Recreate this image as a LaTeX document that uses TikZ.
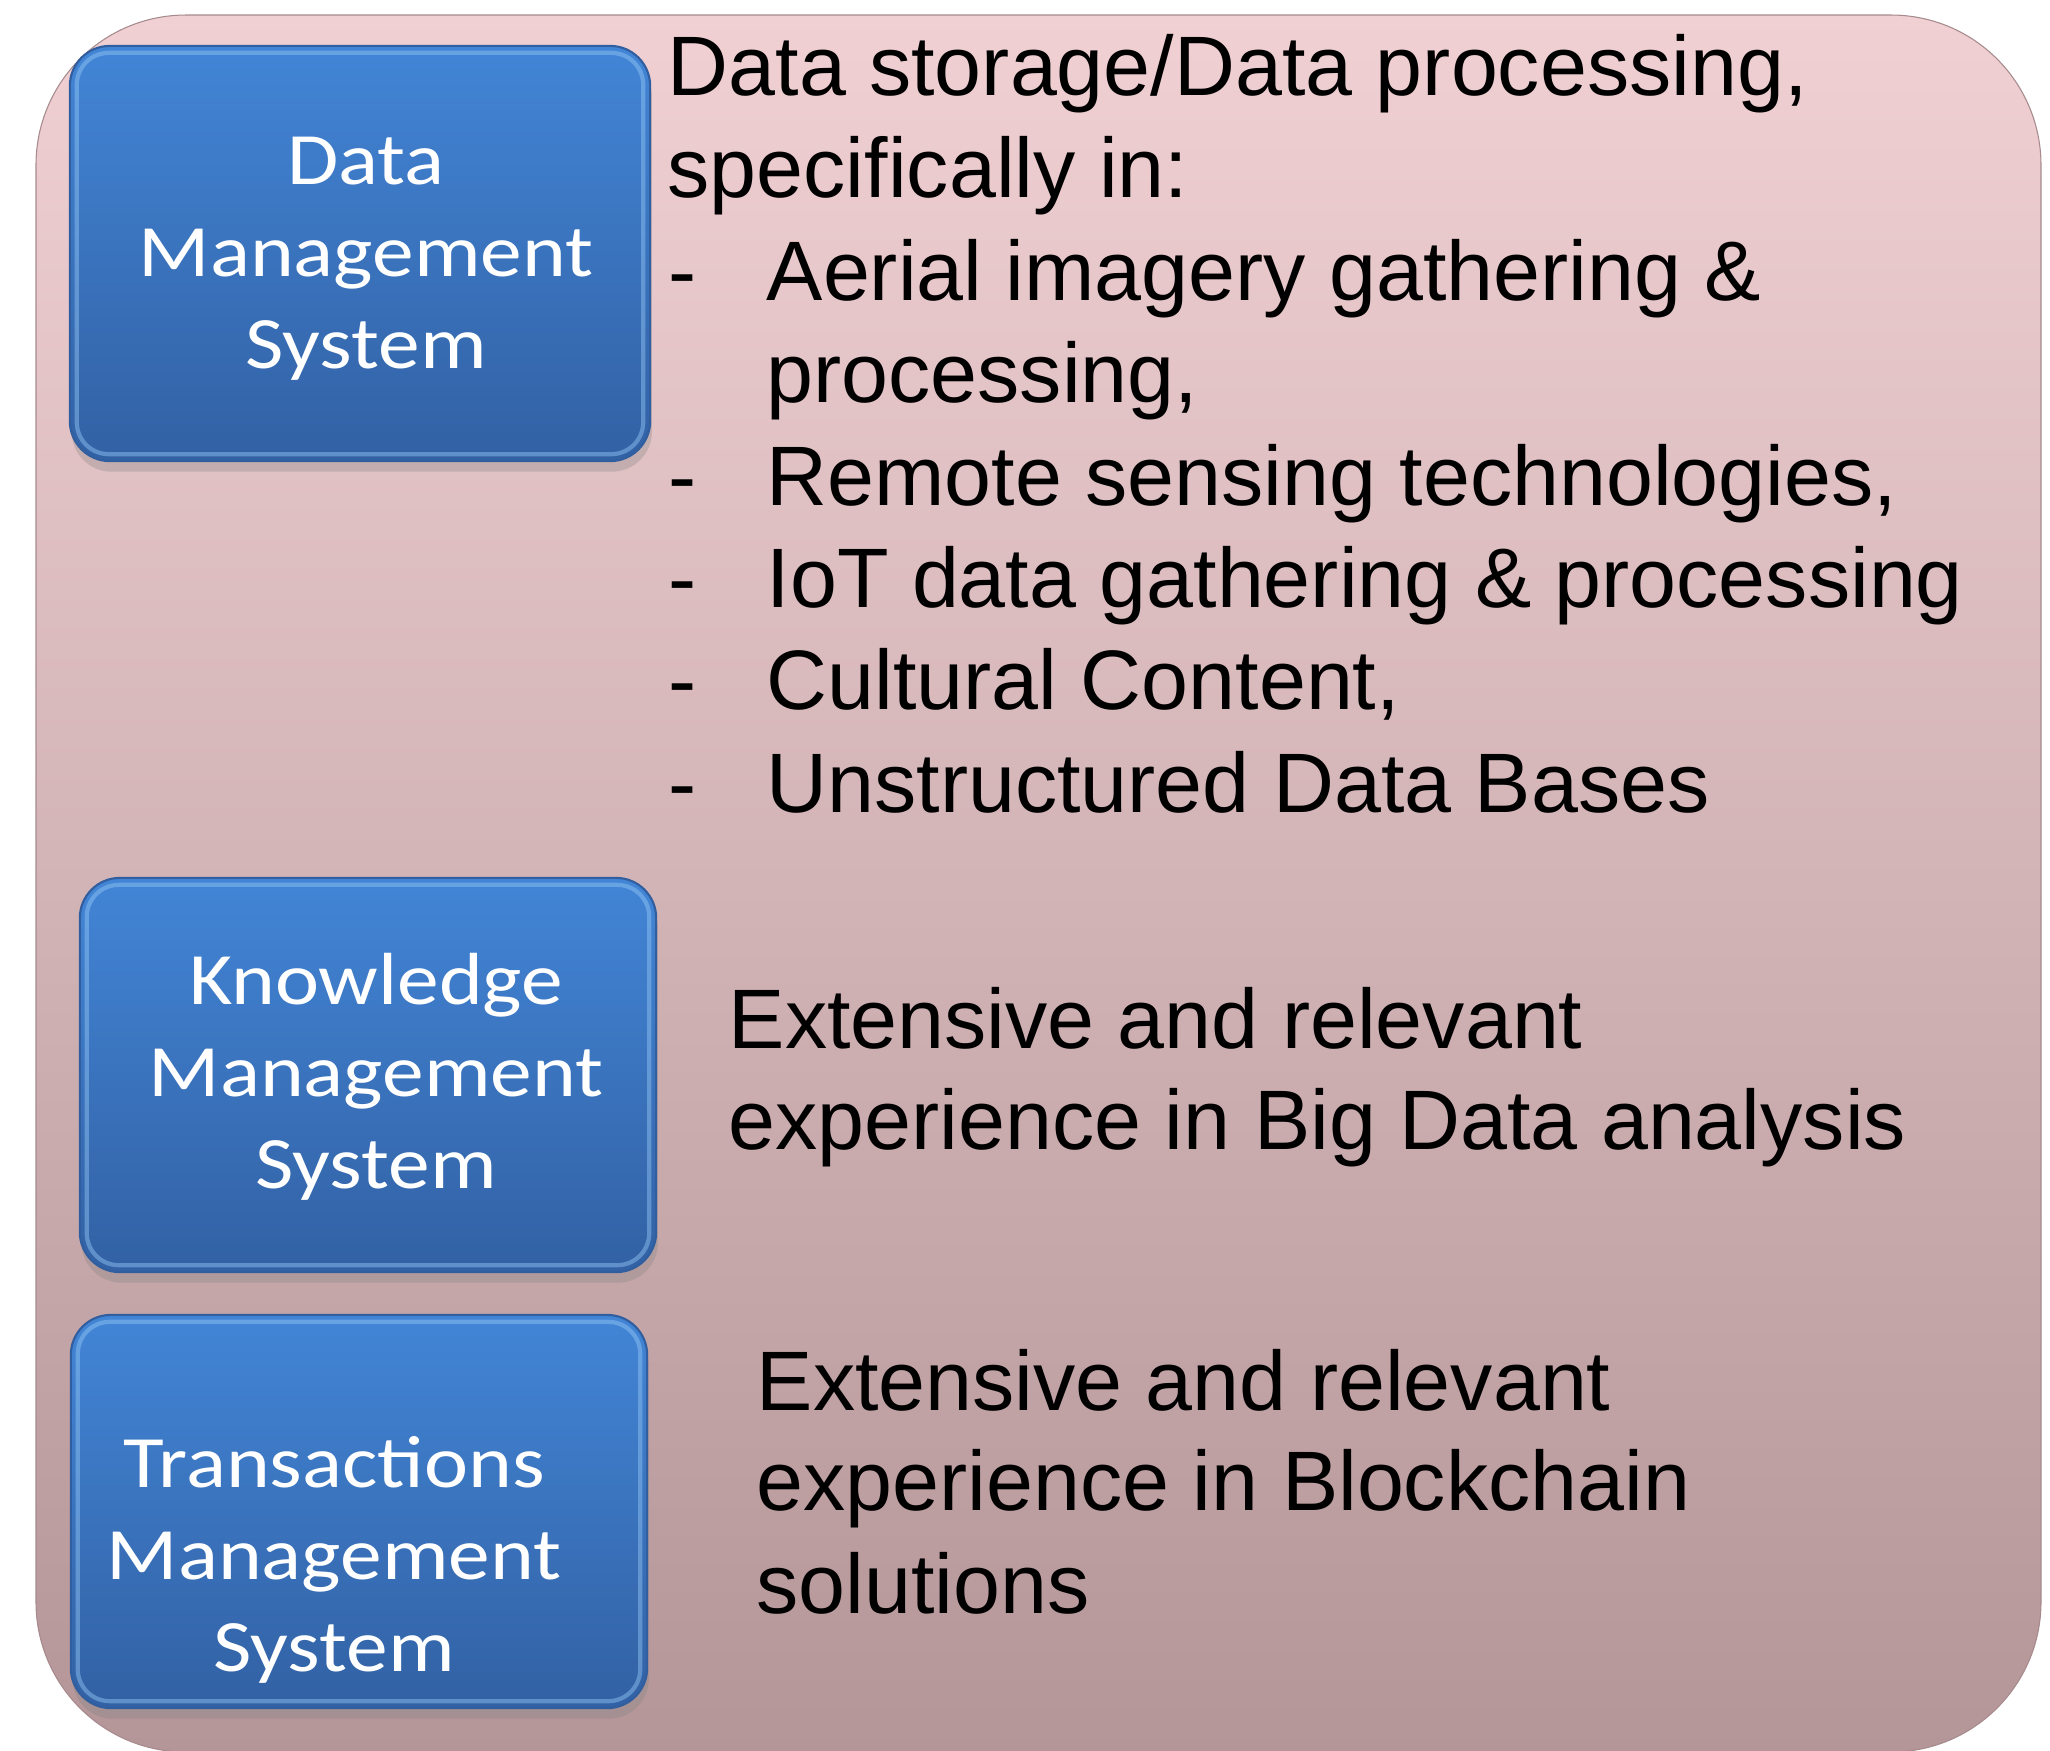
\documentclass[tikz,border=0pt]{standalone}
\usepackage{fontspec}
\setmainfont{Liberation Sans}
\newfontfamily\boxfont[FakeStretch=1.13]{Carlito}
\usetikzlibrary{shadows}

\definecolor{panetop}{RGB}{240,208,211}
\definecolor{panebottom}{RGB}{180,150,153}
\definecolor{boxtop}{RGB}{66,133,214}
\definecolor{boxbottom}{RGB}{50,97,164}
\definecolor{boxrim}{RGB}{48,94,158}
\definecolor{boxshine}{RGB}{150,200,245}

\tikzset{
  sysbox/.style={rounded corners=0.4cm, top color=boxtop, bottom color=boxbottom, draw=boxrim, line width=0.6pt,
    drop shadow={shadow xshift=0.5pt, shadow yshift=-3pt, opacity=0.3}},
  sysshine/.style={draw=boxshine, opacity=0.45, line width=1.2pt, rounded corners=0.32cm},
  systext/.style={text=white, align=center, inner sep=0pt, font=\boxfont\fontsize{21}{26.2}\selectfont},
  infotext/.style={anchor=base west, inner sep=0pt, font=\fontsize{24}{29.1}\selectfont},
}

\begin{document}
\begin{tikzpicture}[x=0.01cm, y=-0.01cm] %%% one unit = one pixel, y runs downwards
      \useasboundingbox (0,0) rectangle (2050,1750);
      %%% pink pane behind everything
      \draw[rounded corners=1.5cm, top color=panetop, bottom color=panebottom, draw=panebottom!92!black, line width=0.3pt] (36,15) rectangle (2041,1752);

      %%% the three system boxes
      \node (dms) [sysbox, minimum width=5.8cm, minimum height=4.15cm] at (360,253.5) {};
      \node (kms) [sysbox, minimum width=5.76cm, minimum height=3.94cm] at (368,1075) {};
      \node (tms) [sysbox, minimum width=5.76cm, minimum height=3.93cm] at (359,1511.5) {};
      \draw[sysshine] ([shift={(8,8)}]dms.north west) rectangle ([shift={(-8,-8)}]dms.south east); %%% highlight
      \draw[sysshine] ([shift={(8,8)}]kms.north west) rectangle ([shift={(-8,-8)}]kms.south east); %%% highlight
      \draw[sysshine] ([shift={(8,8)}]tms.north west) rectangle ([shift={(-8,-8)}]tms.south east); %%% highlight

      \node (dmslabel) [systext] at (366,259) {Data\\Management\\System};
      \node (kmslabel) [systext] at (376,1077) {Knowledge\\Management\\System};
      \node (tmslabel) [systext] at (334,1560) {Transactions\\Management\\System};

      %%% data management text
      \node (dsp1) [infotext] at (667,95) {Data storage/Data processing,};
      \node (dsp2) [infotext] at (667,197.4) {specifically in:};
      \foreach \y in {300,505,607,709,812}
        \node (dash\y) [infotext] at (668,\y) {-};
      \node (aerial) [infotext] at (766,300) {Aerial imagery gathering \&};
      \node (aerial2) [infotext] at (766,402) {processing,};
      \node (remote) [infotext] at (766,505) {Remote sensing technologies,};
      \node (iot) [infotext] at (766,607) {IoT data gathering \& processing};
      \node (cultural) [infotext] at (766,709) {Cultural Content,};
      \node (unstruct) [infotext] at (766,812) {Unstructured Data Bases};

      %%% knowledge management text
      \node (bigdata1) [infotext] at (728,1048) {Extensive and relevant};
      \node (bigdata2) [infotext] at (728,1149) {experience in Big Data analysis};

      %%% transactions management text
      \node (chain1) [infotext] at (756,1410) {Extensive and relevant};
      \node (chain2) [infotext] at (756,1510) {experience in Blockchain};
      \node (chain3) [infotext] at (756,1613) {solutions};
\end{tikzpicture}
\end{document}
